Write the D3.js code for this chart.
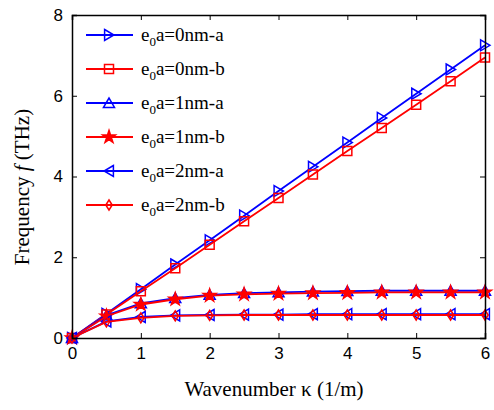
<!DOCTYPE html>
<html><head><meta charset="utf-8">
<script src="https://cdn.jsdelivr.net/npm/d3@7"></script>
<style>body{margin:0;background:#fff}svg{display:block}</style>
</head><body><svg id="c" width="494" height="410"></svg>
<script>
const wavenumber = [0,0.5,1,1.5,2,2.5,3,3.5,4,4.5,5,5.5,6];
const e0nm_a = [0,0.60,1.21,1.82,2.42,3.03,3.64,4.24,4.84,5.45,6.05,6.65,7.25];
const e0nm_b = [0,0.58,1.16,1.73,2.31,2.89,3.47,4.05,4.63,5.20,5.78,6.36,6.95];
const e1nm_a = [0,0.56,0.86,0.99,1.07,1.11,1.13,1.15,1.16,1.17,1.17,1.17,1.17];
const e1nm_b = [0,0.54,0.83,0.96,1.05,1.08,1.10,1.11,1.12,1.13,1.13,1.13,1.13];
const e2nm_a = [0,0.41,0.52,0.56,0.57,0.58,0.58,0.59,0.59,0.59,0.59,0.59,0.59];
const e2nm_b = [0,0.40,0.50,0.55,0.56,0.57,0.57,0.57,0.57,0.57,0.57,0.57,0.57];
const seriesNames = ["0nm-a","0nm-b","1nm-a","1nm-b","2nm-a","2nm-b"];
const xTicks = [0,1,2,3,4,5,6];
const yTicks = [0,2,4,6,8];

const series = [
  {name:seriesNames[0], v:e0nm_a, color:"#0000ff", marker:"triR"},
  {name:seriesNames[1], v:e0nm_b, color:"#ff0000", marker:"square"},
  {name:seriesNames[2], v:e1nm_a, color:"#0000ff", marker:"triU"},
  {name:seriesNames[3], v:e1nm_b, color:"#ff0000", marker:"star"},
  {name:seriesNames[4], v:e2nm_a, color:"#0000ff", marker:"triL"},
  {name:seriesNames[5], v:e2nm_b, color:"#ff0000", marker:"diamond"}
];

const L=72, R=485, T=15, B=338;
const svg = d3.select("#c");
const x = d3.scaleLinear().domain([0,6]).range([L,R]);
const y = d3.scaleLinear().domain([0,8]).range([B,T]);

function markerPath(type){
  const s=5.5;
  switch(type){
    case "triR": return `M${-s*0.8},${-s}L${s*0.9},0L${-s*0.8},${s}Z`;
    case "triL": return `M${s*0.8},${-s}L${-s*0.9},0L${s*0.8},${s}Z`;
    case "triU": return `M${-s},${s*0.8}L0,${-s*0.9}L${s},${s*0.8}Z`;
    case "square": return `M-4.5,-4.5L4.5,-4.5L4.5,4.5L-4.5,4.5Z`;
    case "diamond": return `M0,-5L3.2,0L0,5L-3.2,0Z`;
    case "star": return d3.symbol(d3.symbolStar, 50)();
  }
}

const line = d3.line().x((d,i)=>x(wavenumber[i])).y(d=>y(d));
const plot = svg.append("g");
series.forEach(s=>{
  plot.append("path").attr("d", line(s.v)).attr("fill","none")
    .attr("stroke", s.color).attr("stroke-width",1.8);
  plot.selectAll(null).data(s.v).enter().append("path")
    .attr("transform",(d,i)=>`translate(${x(wavenumber[i])},${y(d)})`)
    .attr("d", markerPath(s.marker))
    .attr("fill", s.marker==="star"? s.color : "none")
    .attr("stroke", s.color).attr("stroke-width",1.5);
});

// axes
const axB = d3.axisBottom(x).tickValues(xTicks).tickSize(-5).tickPadding(9).tickFormat(d3.format("d"));
const axL = d3.axisLeft(y).tickValues(yTicks).tickSize(-5).tickPadding(9).tickFormat(d3.format("d"));
const axT = d3.axisTop(x).tickValues(xTicks).tickSize(-5).tickFormat("");
const axR = d3.axisRight(y).tickValues(yTicks).tickSize(-5).tickFormat("");
[[axB,`translate(0,${B})`],[axL,`translate(${L},0)`],[axT,`translate(0,${T})`],[axR,`translate(${R},0)`]].forEach(([a,t])=>{
  const g = svg.append("g").attr("transform",t).call(a);
  g.select(".domain").attr("stroke","#000").attr("stroke-width",1.5);
  g.selectAll(".tick line").attr("stroke","#000").attr("stroke-width",1);
  g.selectAll("text").attr("font-family","'Liberation Sans', Arial, sans-serif").attr("font-size",17).attr("fill","#000");
});

// legend
const legY0=35, legDy=34;
series.forEach((s,i)=>{
  const gy = legY0 + i*legDy;
  const g = svg.append("g");
  g.append("line").attr("x1",86).attr("x2",133).attr("y1",gy).attr("y2",gy)
    .attr("stroke",s.color).attr("stroke-width",1.8);
  g.append("path").attr("transform",`translate(109,${gy})`).attr("d",markerPath(s.marker))
    .attr("fill", s.marker==="star"? s.color : "none").attr("stroke",s.color).attr("stroke-width",1.5);
  const t = g.append("text").attr("x",141).attr("y",gy+6)
    .attr("font-family","'Liberation Serif','Times New Roman',serif").attr("font-size",19).attr("fill","#000");
  t.append("tspan").text("e");
  t.append("tspan").attr("font-size",13).attr("dy",5).text("0");
  t.append("tspan").attr("dy",-5).text("a=" + s.name);
});

// axis titles
svg.append("text").attr("x",274).attr("y",396).attr("text-anchor","middle")
  .attr("font-family","'Liberation Serif','Times New Roman',serif").attr("font-size",21)
  .text("Wavenumber κ (1/m)");
const yt = svg.append("text").attr("transform",`translate(29,${187}) rotate(-90)`).attr("text-anchor","middle")
  .attr("font-family","'Liberation Serif','Times New Roman',serif").attr("font-size",21);
yt.append("tspan").text("Frequency ");
yt.append("tspan").attr("font-style","italic").text("f");
yt.append("tspan").text(" (THz)");
</script></body></html>
